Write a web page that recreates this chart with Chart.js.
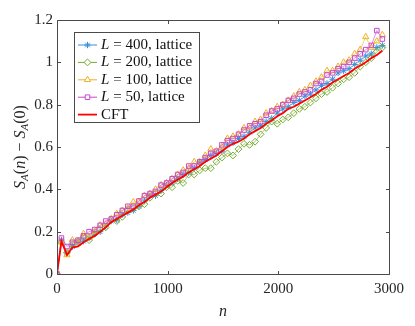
<!DOCTYPE html>
<html>
<head>
<meta charset="utf-8">
<script src="https://cdn.jsdelivr.net/npm/chart.js@4/dist/chart.umd.min.js"></script>
<style>
html,body{margin:0;padding:0;background:#fff;}
canvas{display:block;}
</style>
</head>
<body>
<canvas id="c" width="415" height="326"></canvas>
<script>
const nValues = [0,40,90,140,190,240,290,340,390,440,490,540,590,640,690,740,790,840,890,940,990,1040,1090,1140,1190,1240,1290,1340,1390,1440,1490,1540,1590,1640,1690,1740,1790,1840,1890,1940,1990,2040,2090,2140,2190,2240,2290,2340,2390,2440,2490,2540,2590,2640,2690,2740,2790,2840,2890,2940];

const cft = [0,0.155,0.09,0.125,0.13,0.15,0.165,0.18,0.2,0.22,0.245,0.26,0.275,0.29,0.305,0.325,0.34,0.36,0.375,0.39,0.41,0.43,0.445,0.46,0.48,0.495,0.51,0.53,0.545,0.56,0.58,0.6,0.615,0.625,0.64,0.66,0.675,0.69,0.71,0.725,0.745,0.76,0.78,0.79,0.805,0.82,0.835,0.85,0.87,0.885,0.905,0.92,0.935,0.95,0.97,0.985,1.0,1.02,1.035,1.055];

const L400 = [0,0.16,0.1,0.13,0.145,0.155,0.17,0.19,0.2,0.225,0.25,0.255,0.28,0.29,0.3,0.32,0.345,0.37,0.37,0.395,0.42,0.43,0.45,0.47,0.48,0.5,0.525,0.54,0.56,0.57,0.58,0.61,0.62,0.64,0.65,0.67,0.69,0.7,0.72,0.735,0.76,0.78,0.79,0.81,0.82,0.84,0.85,0.87,0.89,0.9,0.92,0.95,0.96,0.97,0.99,1.01,1.03,1.04,1.07,1.08];

const L200 = [0,0.15,0.1,0.14,0.155,0.175,0.16,0.19,0.21,0.22,0.255,0.25,0.27,0.3,0.31,0.32,0.33,0.36,0.38,0.38,0.41,0.41,0.44,0.43,0.47,0.47,0.49,0.5,0.5,0.53,0.55,0.57,0.56,0.59,0.615,0.61,0.625,0.66,0.69,0.72,0.71,0.73,0.74,0.76,0.78,0.79,0.81,0.83,0.85,0.86,0.88,0.9,0.92,0.93,0.95,0.98,1.0,1.02,1.05,1.07];

const L100 = [0,0.15,0.09,0.16,0.15,0.19,0.175,0.2,0.23,0.235,0.26,0.285,0.3,0.31,0.34,0.34,0.37,0.38,0.4,0.42,0.43,0.45,0.47,0.49,0.5,0.53,0.53,0.56,0.59,0.58,0.6,0.64,0.65,0.66,0.69,0.69,0.72,0.73,0.76,0.77,0.79,0.8,0.82,0.84,0.86,0.87,0.89,0.91,0.93,0.96,0.96,0.98,1.0,1.01,1.04,1.06,1.12,1.07,1.1,1.13];

const L50 = [0,0.17,0.13,0.15,0.16,0.18,0.2,0.21,0.23,0.25,0.26,0.28,0.3,0.32,0.32,0.345,0.37,0.38,0.39,0.42,0.43,0.45,0.47,0.48,0.51,0.51,0.53,0.55,0.57,0.58,0.61,0.63,0.64,0.66,0.68,0.7,0.71,0.72,0.75,0.77,0.78,0.8,0.82,0.83,0.85,0.86,0.87,0.9,0.91,0.94,0.95,0.97,0.98,1.0,1.02,1.04,1.06,1.08,1.15,1.11];

const xTicks = [0,1000,2000,3000];
const yTicks = [0,0.2,0.4,0.6,0.8,1,1.2];

const colors = {L400:'#3d8fd6', L200:'#77ac30', L100:'#edb120', L50:'#c748cf', CFT:'#ff0000'};

function pts(ys){ return nValues.map((n,i)=>({x:n,y:ys[i]})); }

const SERIF = '"Liberation Serif","DejaVu Serif",serif';

const datasets = [
  {label:'CFT', data:pts(cft), borderColor:colors.CFT, borderWidth:1.8, pointRadius:0, order:0},
  {label:'L50', data:pts(L50), borderColor:colors.L50, borderWidth:0.6, pointStyle:'rect', pointRadius:3.2, pointBorderColor:colors.L50, pointBackgroundColor:'rgba(0,0,0,0)', pointBorderWidth:1, order:1},
  {label:'L100', data:pts(L100), borderColor:colors.L100, borderWidth:0.6, pointStyle:'triangle', pointRadius:3.6, pointBorderColor:colors.L100, pointBackgroundColor:'rgba(0,0,0,0)', pointBorderWidth:1, order:2},
  {label:'L200', data:pts(L200), borderColor:colors.L200, borderWidth:0.6, pointStyle:'rectRot', pointRadius:3.4, pointBorderColor:colors.L200, pointBackgroundColor:'rgba(0,0,0,0)', pointBorderWidth:1, order:3},
  {label:'L400', data:pts(L400), borderColor:colors.L400, borderWidth:0.6, pointStyle:'star', pointRadius:3.2, pointBorderColor:colors.L400, pointBackgroundColor:colors.L400, pointBorderWidth:1, order:4}
];

const decor = {
  id:'decor',
  afterDraw(chart){
    const ctx = chart.ctx, a = chart.chartArea;
    const xs = chart.scales.x, ys = chart.scales.y;
    ctx.save();
    ctx.strokeStyle = '#4a4a4a';
    ctx.lineWidth = 1;
    const L = Math.round(a.left)+0.5, R = Math.round(a.right)+0.5, T = Math.round(a.top)+0.5, B = Math.round(a.bottom)+0.5;
    ctx.beginPath();
    ctx.rect(L, T, R-L, B-T);
    ctx.stroke();
    const tl = 3.5;
    ctx.beginPath();
    xTicks.forEach(v=>{
      const px = Math.round(xs.getPixelForValue(v))+0.5;
      ctx.moveTo(px,B); ctx.lineTo(px,B-tl);
      ctx.moveTo(px,T); ctx.lineTo(px,T+tl);
    });
    yTicks.forEach(v=>{
      const py = Math.round(ys.getPixelForValue(v))+0.5;
      ctx.moveTo(L,py); ctx.lineTo(L+tl,py);
      ctx.moveTo(R,py); ctx.lineTo(R-tl,py);
    });
    ctx.stroke();

    // legend
    const lx = 74.5, ly = 32.5, lw = 125, lh = 90;
    ctx.fillStyle = '#fff';
    ctx.fillRect(lx, ly, lw, lh);
    ctx.strokeStyle = '#4a4a4a';
    ctx.lineWidth = 1;
    ctx.strokeRect(lx, ly, lw, lh);
    const rows = [
      {c:colors.L400, s:'star', t:'400', r:3.2},
      {c:colors.L200, s:'rectRot', t:'200', r:3.4},
      {c:colors.L100, s:'triangle', t:'100', r:3.6},
      {c:colors.L50, s:'rect', t:'50', r:3.2},
      {c:colors.CFT, s:null, t:null}
    ];
    rows.forEach((r,i)=>{
      const y = 45 + i*17.4;
      ctx.strokeStyle = r.c;
      ctx.lineWidth = r.s ? 1 : 1.8;
      ctx.beginPath(); ctx.moveTo(78, y); ctx.lineTo(97, y); ctx.stroke();
      if (r.s){
        ctx.save();
        ctx.strokeStyle = r.c;
        ctx.fillStyle = r.s === 'star' ? r.c : '#ffffff';
        ctx.lineWidth = 1;
        Chart.helpers.drawPoint(ctx, {pointStyle:r.s, radius:r.r, borderWidth:1, rotation:0}, 87.5, y);
        ctx.restore();
      }
      ctx.fillStyle = '#111';
      ctx.textBaseline = 'middle';
      ctx.textAlign = 'left';
      let x = 101;
      if (r.t){
        ctx.font = 'italic 15px ' + SERIF;
        ctx.fillText('L', x, y); x += ctx.measureText('L').width + 4;
        ctx.font = '15px ' + SERIF;
        ctx.fillText('= ' + r.t + ', lattice', x, y);
      } else {
        ctx.font = '15px ' + SERIF;
        ctx.fillText('CFT', x, y);
      }
    });

    // x title
    ctx.fillStyle = '#262626';
    ctx.font = 'italic 16px ' + SERIF;
    ctx.textAlign = 'center';
    ctx.textBaseline = 'alphabetic';
    ctx.fillText('n', (a.left+a.right)/2, 316);

    // y title
    ctx.save();
    ctx.translate(25, (a.top+a.bottom)/2);
    ctx.rotate(-Math.PI/2);
    ctx.textAlign = 'left';
    const parts = [
      {t:'S', f:'italic 16px '+SERIF, dy:0},
      {t:'A', f:'italic 11px '+SERIF, dy:3},
      {t:'(', f:'16px '+SERIF, dy:0},
      {t:'n', f:'italic 16px '+SERIF, dy:0},
      {t:')', f:'16px '+SERIF, dy:0},
      {t:' \u2212 ', f:'16px '+SERIF, dy:0},
      {t:'S', f:'italic 16px '+SERIF, dy:0},
      {t:'A', f:'italic 11px '+SERIF, dy:3},
      {t:'(0)', f:'16px '+SERIF, dy:0}
    ];
    let tw = 0;
    parts.forEach(p=>{ ctx.font = p.f; p.w = ctx.measureText(p.t).width; tw += p.w; });
    let cx = -tw/2;
    parts.forEach(p=>{ ctx.font = p.f; ctx.fillText(p.t, cx, p.dy); cx += p.w; });
    ctx.restore();

    ctx.restore();
  }
};

new Chart(document.getElementById('c'), {
  type:'line',
  data:{datasets},
  options:{
    responsive:false,
    animation:false,
    events:[],
    layout:{padding:{top:20, right:26, left:0, bottom:0}},
    plugins:{legend:{display:false}, tooltip:{enabled:false}},
    scales:{
      x:{
        type:'linear', min:0, max:3000,
        afterBuildTicks(s){ s.ticks = xTicks.map(v=>({value:v})); },
        afterFit(s){ s.height = 52; },
        grid:{display:false, drawTicks:false}, border:{display:false},
        ticks:{font:{family:SERIF, size:15}, color:'#262626', padding:6, maxRotation:0,
               callback:v=>String(v)}
      },
      y:{
        type:'linear', min:0, max:1.2,
        afterBuildTicks(s){ s.ticks = yTicks.map(v=>({value:v})); },
        afterFit(s){ s.width = 57; },
        grid:{display:false, drawTicks:false}, border:{display:false},
        ticks:{font:{family:SERIF, size:15}, color:'#262626', padding:4,
               callback:v=>String(Math.round(v*10)/10)}
      }
    }
  },
  plugins:[decor]
});
</script>
</body>
</html>
